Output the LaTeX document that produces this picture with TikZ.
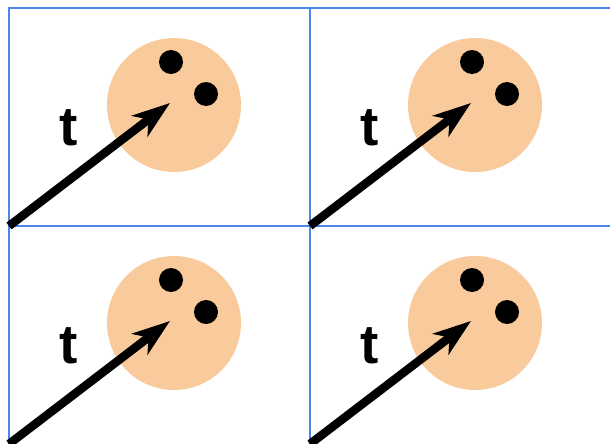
\documentclass[tikz,border=0pt]{standalone}
\usepackage{fontspec}
\setmainfont{Liberation Sans}
\usetikzlibrary{arrows.meta}
\definecolor{gridblue}{HTML}{4A86E8}
\definecolor{peach}{HTML}{F9CB9C}
\tikzset{
  gridline/.style={draw=gridblue, line width=2.3pt},
  blob/.style={circle, fill=peach, minimum size=134pt, inner sep=0pt},
  dot/.style={circle, fill=black, minimum size=24pt, inner sep=0pt},
  tlabel/.style={inner sep=0pt, font=\fontsize{55}{60}\selectfont\bfseries},
  vec/.style={line width=8.5pt, -{Stealth[length=38pt, width=26pt, inset=11pt]}}
}
\begin{document}
\begin{tikzpicture}[x=1pt, y=-1pt]
\useasboundingbox (0,0) rectangle (610,444);
% grid
\coordinate (g1) at (9,444);
\coordinate (g2) at (9,8);
\coordinate (g3) at (610,8);
\coordinate (g4) at (310,444);
\coordinate (g5) at (310,8);
\coordinate (g6) at (9,226);
\coordinate (g7) at (610,226);
\draw[gridline] (g1) -- (g2) -- (g3);
\draw[gridline] (g4) -- (g5);
\draw[gridline] (g6) -- (g7);
\foreach \i/\dx in {1/0, 2/301} {
  \foreach \j/\dy in {1/0, 2/218} {
    \begin{scope}[shift={(\dx,\dy)}]
      \node[blob] (c-\i-\j) at (174,105) {};
      \node[dot] (d1-\i-\j) at (171,62) {};
      \node[dot] (d2-\i-\j) at (206,94) {};
      \node[tlabel] (t-\i-\j) at (68.5,128) {t};
      \coordinate (s-\i-\j) at (9,226);
      \coordinate (e-\i-\j) at (170,103);
      \draw[vec] (s-\i-\j) -- (e-\i-\j);
    \end{scope}
  }
}
\end{tikzpicture}
\end{document}
